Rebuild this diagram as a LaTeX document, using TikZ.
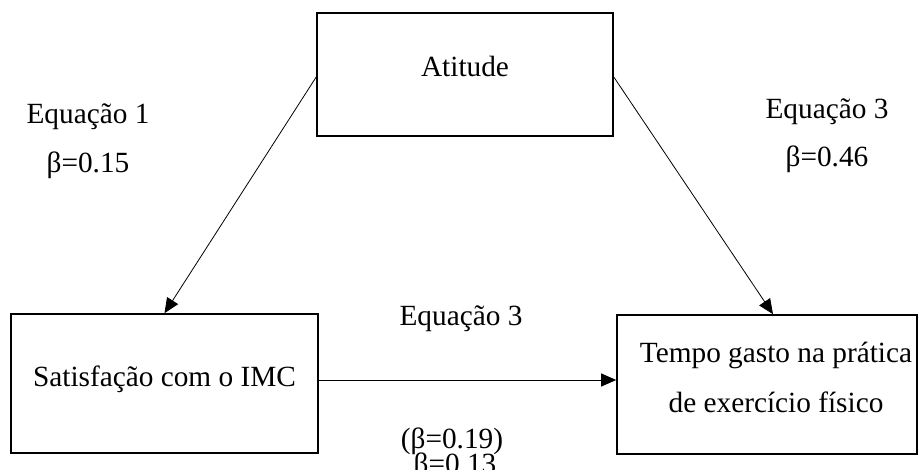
\documentclass[tikz,border=0pt]{standalone}
\usepackage{fontspec}
\setmainfont{Liberation Serif}
\usetikzlibrary{arrows.meta}
\begin{document}
\begin{tikzpicture}[x=1pt,y=-1pt,
  box/.style={draw=black,line width=1.6pt,minimum width=#1,inner sep=0pt,minimum height=139pt},
  lbl/.style={anchor=base,inner sep=0pt,font=\fontsize{29.3}{35}\selectfont},
  arr/.style={line width=0.8pt,-{Triangle[length=15pt,width=13pt]}}]
\useasboundingbox (0,0) rectangle (920,470);
\fill[white] (0,0) rectangle (920,470);
% boxes
\node[box=296pt,minimum height=123pt] (att) at (465,74.5) {};
\node[box=307pt] (sat) at (164.5,383.5) {};
\node[box=300pt] (tmp) at (767,384.5) {};
% box texts
\node[lbl] (tatt) at (465,77) {Atitude};
\node[lbl] (tsat) at (164.5,386) {Satisfação com o IMC};
\node[lbl] (ttmp1) at (776,362) {Tempo gasto na prática};
\node[lbl] (ttmp2) at (776,412) {de exercício físico};
% side labels
\node[lbl] (eq1) at (88,124) {Equação 1};
\node[lbl] (b1) at (88,173) {β=0.15};
\node[lbl] (eq3r) at (827,119) {Equação 3};
\node[lbl] (b3) at (827,167) {β=0.46};
\node[lbl] (eq3m) at (461,325) {Equação 3};
\node[lbl] (b2a) at (452,448) {(β=0.19)};
\node[lbl] (b2b) at (455,473) {β=0.13};
% connectors
\draw[arr] ([yshift=-2.5pt]att.west) -- (sat.north);
\draw[arr] ([yshift=-2.5pt]att.east) -- ([xshift=6pt]tmp.north);
\draw[arr] ([yshift=3.5pt]sat.east) -- ([yshift=3.5pt]sat.east -| tmp.west);
\end{tikzpicture}
\end{document}
